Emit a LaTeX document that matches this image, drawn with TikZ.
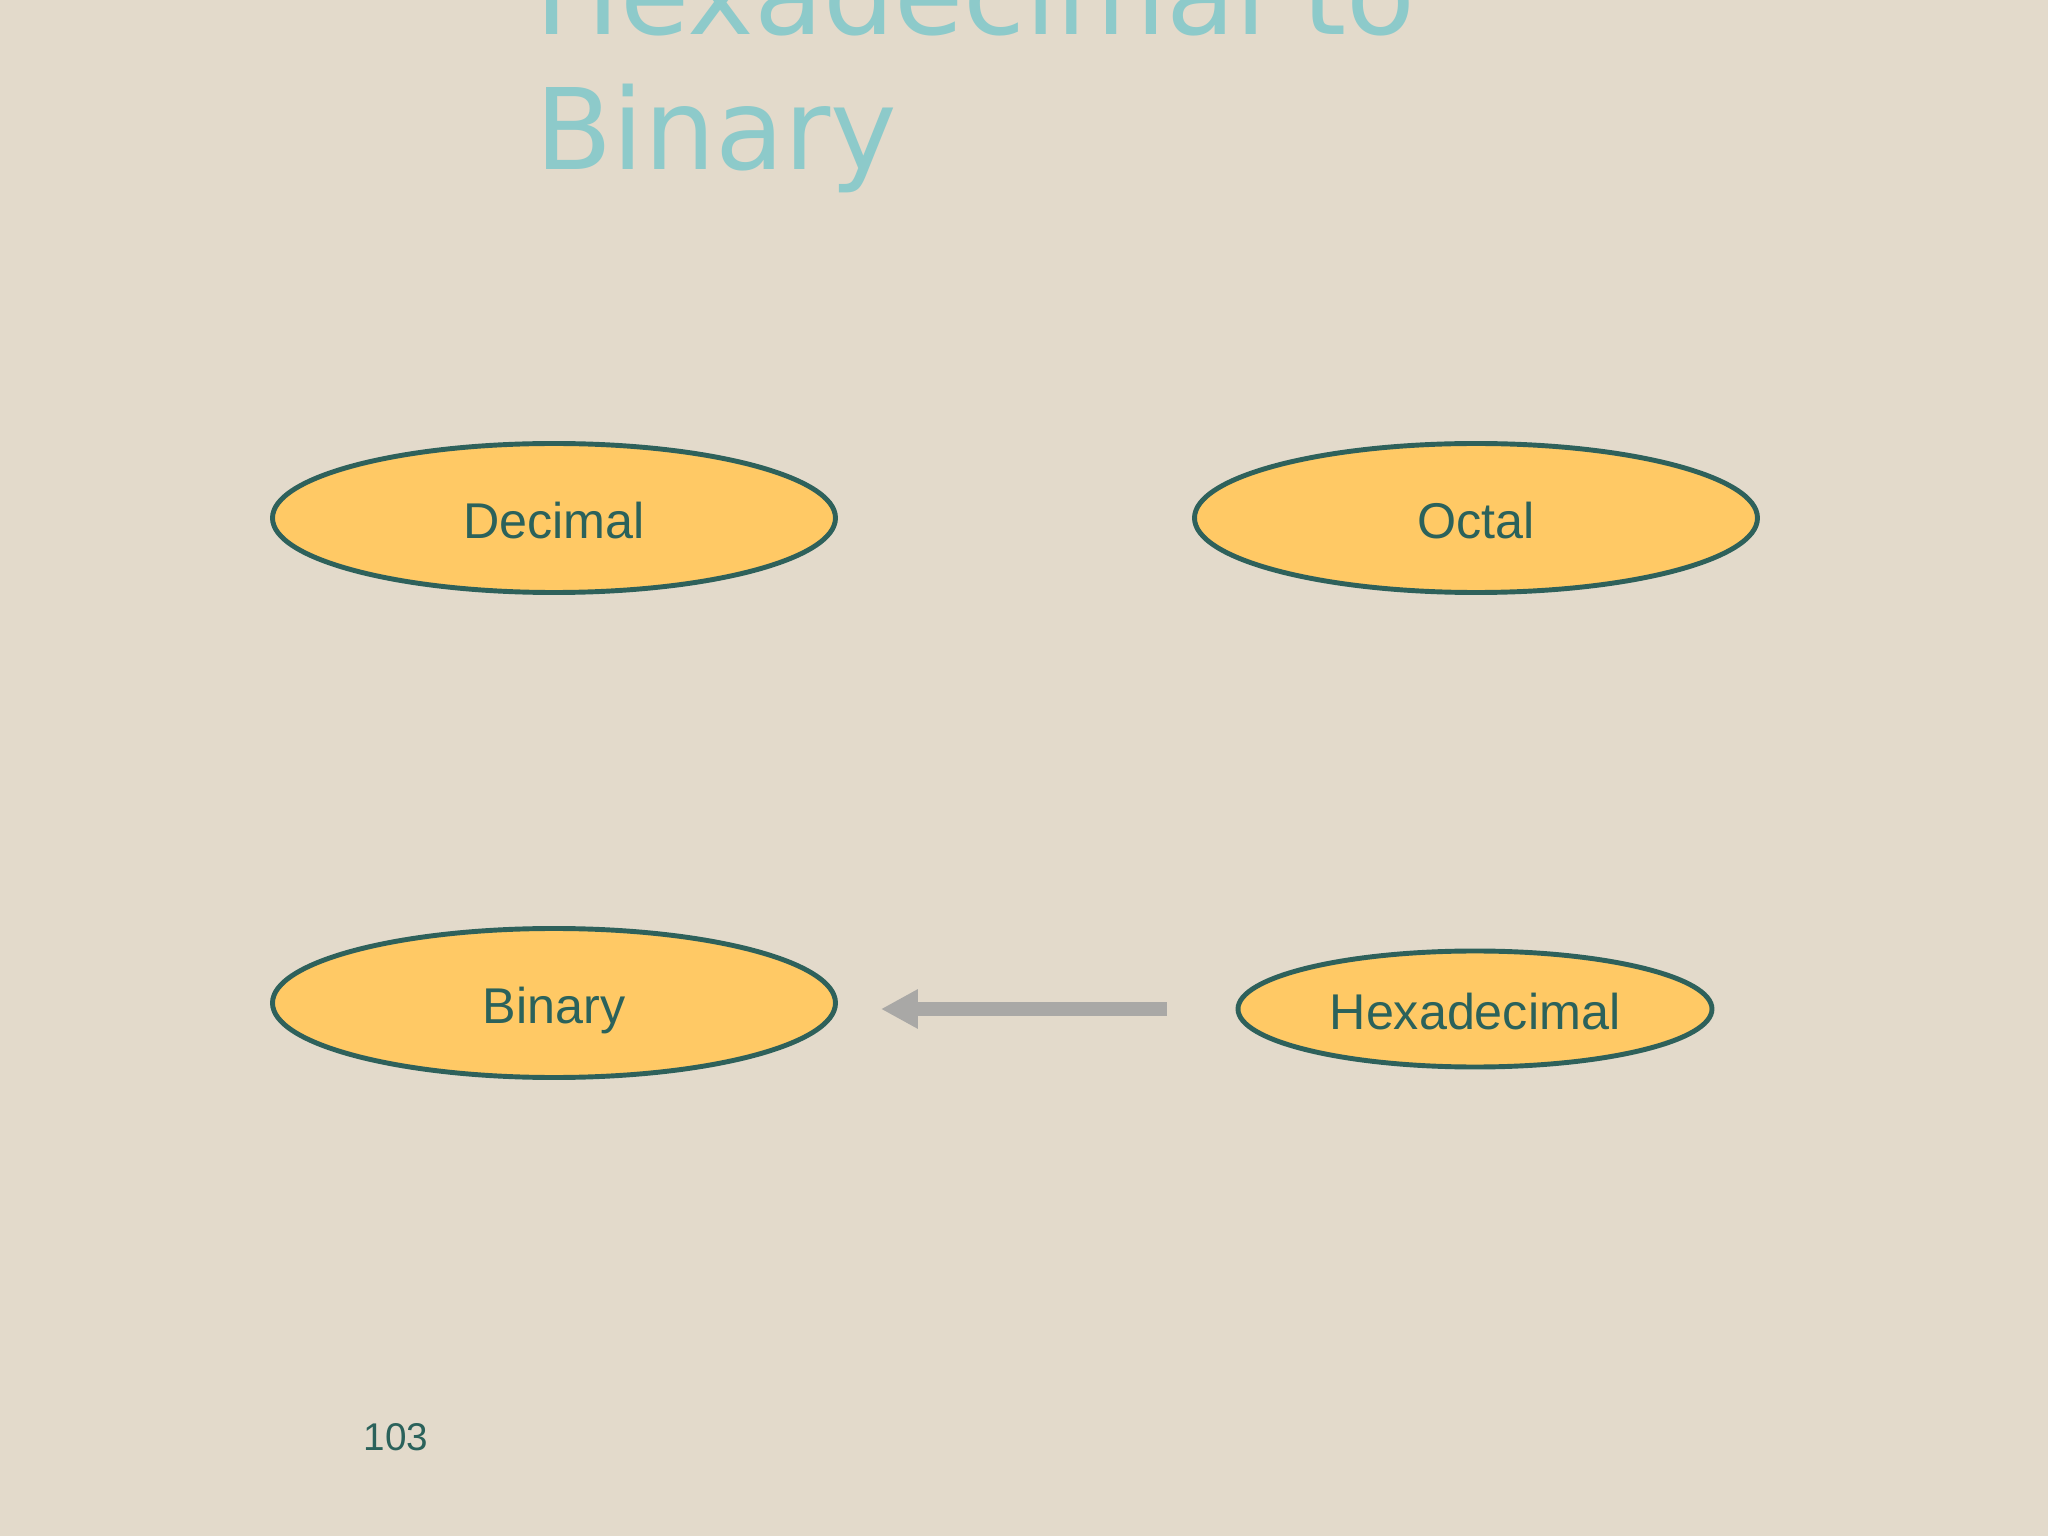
\documentclass[tikz,border=0pt]{standalone}
\usepackage{fontspec}
\setmainfont{Liberation Sans}
\newfontfamily\titlefont{DejaVu Sans}
\usepackage{tikz}
\usetikzlibrary{positioning}
\usetikzlibrary{arrows.meta}
\usetikzlibrary{shapes.geometric}
\definecolor{paper}{HTML}{E3DACB}
\definecolor{bubble}{HTML}{FFC965}
\definecolor{rim}{HTML}{2E615B}
\definecolor{inktxt}{HTML}{2B625B}
\definecolor{heading}{HTML}{8DCACA}
\definecolor{pointer}{HTML}{A9A8A6}
\newcommand{\bubbletext}[1]{\raisebox{-0.4em}[0pt][0pt]{#1}}

\begin{document}
\begin{tikzpicture}[
    base/.style={ellipse,draw=rim,line width=1.4pt,fill=bubble,
      text=inktxt,inner sep=0pt,font=\fontsize{14.3}{16}\selectfont},
    bigbase/.style={base,minimum width=5.63cm,minimum height=1.49cm},
    smallbase/.style={base,minimum width=4.74cm,minimum height=1.16cm},
    title/.style={anchor=base west,inner sep=0pt,text=heading,
      font=\titlefont\fontsize{32}{38}\selectfont}]

  \fill[paper] (0,0) rectangle (20.48,-15.36);
  \clip (0,0) rectangle (20.48,-15.36);
  \useasboundingbox (0,0) rectangle (20.48,-15.36);

  \node[title] (head1) at (5.35,-0.35) {Hexadecimal to};
  \node[title] (head2) at (5.35,-1.70) {Binary};

  \node[bigbase] (dec) at (5.54,-5.18) {\bubbletext{Decimal}};
  \node[bigbase] (oct) at (14.76,-5.18) {\bubbletext{Octal}};
  \node[bigbase] (bin) at (5.54,-10.03) {\bubbletext{Binary}};
  \node[smallbase] (hex) at (14.75,-10.09) {\bubbletext{Hexadecimal}};

  \draw[pointer,line width=3.7pt,
    -{Triangle[width=0.37cm,length=0.37cm]},
    shorten <=0.69cm,shorten >=0.43cm]
    (hex.west) -- (hex.west -| bin.east);

  \node[anchor=base west,inner sep=0pt,text=inktxt,
    font=\fontsize{11}{13}\selectfont] (page) at (3.63,-14.50) {103};

\end{tikzpicture}
\end{document}
